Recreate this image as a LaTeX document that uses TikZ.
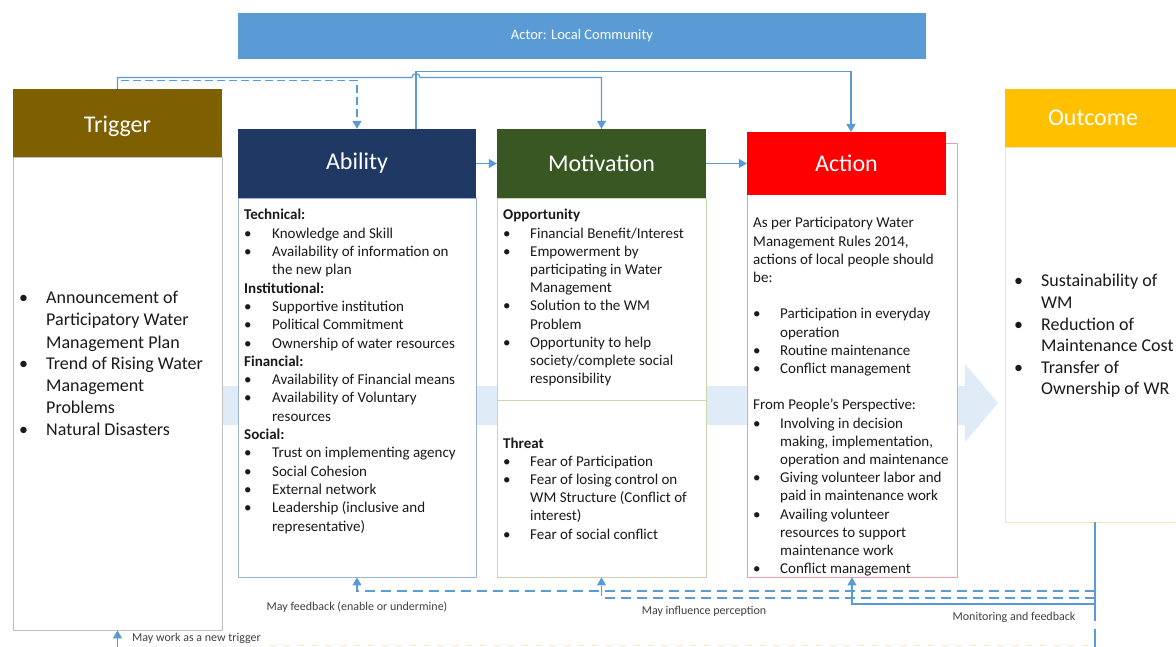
\documentclass[tikz,border=0pt]{standalone}
\usepackage{fontspec}
\setmainfont{Carlito}
\usetikzlibrary{arrows.meta}
\definecolor{cblue}{HTML}{5B9BD5}
\definecolor{ctrig}{HTML}{7F6000}
\definecolor{cabil}{HTML}{1F3864}
\definecolor{cmoti}{HTML}{385723}
\definecolor{cact}{HTML}{FF0000}
\definecolor{cout}{HTML}{FFC000}
\definecolor{cband}{HTML}{DFEBF7}
\definecolor{btrig}{HTML}{BFBFBF}
\definecolor{babil}{HTML}{9DB3D6}
\definecolor{bmoti}{HTML}{C9D5AE}
\definecolor{bact}{HTML}{F19CA8}
\definecolor{bout}{HTML}{FBE3B8}
\definecolor{ctext}{HTML}{1A1A1A}
\definecolor{clab}{HTML}{404040}
\definecolor{cfaint}{HTML}{FCE8C4}
\newcommand\bitem[1][27pt]{\makebox[#1][l]{\textbullet}}
\newcommand\bcont[1][27pt]{\hspace*{#1}}
\tikzset{
  hdr/.style={inner sep=0pt, text=white, font=\fontsize{24}{28}\selectfont},
  body/.style={fill=white, inner sep=0pt, line width=0.8pt},
  txt/.style={inner sep=0pt, anchor=base west, text=ctext},
  lab/.style={inner sep=0pt, text=clab, font=\fontsize{12}{14}\selectfont},
  conn/.style={draw=cblue, line width=1.2pt},
  tip/.style={-{Triangle[length=8pt,width=9pt]}},
  dconn/.style={conn, dash pattern=on 10pt off 6pt},
  tdconn/.style={conn, dash pattern=on 8pt off 4pt}
}
\begin{document}
\begin{tikzpicture}[x=1pt,y=-1pt]
\useasboundingbox (0,0) rectangle (1176,647);
\fill[white] (0,0) rectangle (1176,647);
% big background arrow
\fill[cband] (200,386) -- (965,386) -- (965,364) -- (998,403) -- (965,442) -- (965,425) -- (200,425) -- cycle;
% actor bar
\node[fill=cblue, inner sep=0pt, minimum width=688pt, minimum height=46pt, text=white, font=\fontsize{14.5}{17}\selectfont] (actor) at (582,36) {Actor: Local Community};
% bodies
\node[body, draw=btrig, minimum width=209pt, minimum height=473pt] (trB) at (117.5,393.5) {};
\node[body, draw=babil, minimum width=238pt, minimum height=379pt] (abB) at (357,387.5) {};
\node[body, draw=bmoti, minimum width=209pt, minimum height=379pt] (moB) at (601.5,387.5) {};
\draw[bmoti, line width=0.8pt] (moB.west |- 0,400) -- (moB.east |- 0,400);
\node[body, draw=bact, minimum width=210pt, minimum height=434pt] (acB) at (852,360) {};
\node[body, draw=bout, minimum width=176pt, minimum height=375pt] (ouB) at (1093,334.5) {};
% headers
\node[hdr, fill=ctrig, minimum width=209pt, minimum height=68pt, text depth=0pt] (trH) at (117.5,123) {\raisebox{-2pt}{Trigger}};
\node[hdr, fill=cabil, minimum width=238pt, minimum height=69pt] (abH) at (357,163.5) {\raisebox{-2pt}{Ability}};
\node[hdr, fill=cmoti, minimum width=209pt, minimum height=69pt] (moH) at (601.5,163.5) {Motivation};
\node[hdr, fill=cact, minimum width=199pt, minimum height=63pt] (acH) at (846.5,163.5) {Action};
\node[hdr, fill=cout, minimum width=176pt, minimum height=58pt] (ouH) at (1093,118) {Outcome};
% texts
\node[txt] (trT) at (19,304) {\parbox[t]{200pt}{\fontsize{18}{22}\selectfont\raggedright
\bitem[27pt]Announcement of\\ \bcont[27pt]Participatory Water\\ \bcont[27pt]Management Plan\\
\bitem[27pt]Trend of Rising Water\\ \bcont[27pt]Management\\ \bcont[27pt]Problems\\
\bitem[27pt]Natural Disasters}};
\node[txt] (abT) at (244,220) {\parbox[t]{235pt}{\fontsize{15}{18.3}\selectfont\raggedright
\textbf{Technical:}\\
\bitem[28pt]Knowledge and Skill\\
\bitem[28pt]Availability of information on\\ \bcont[28pt]the new plan\\
\textbf{Institutional:}\\
\bitem[28pt]Supportive institution\\
\bitem[28pt]Political Commitment\\
\bitem[28pt]Ownership of water resources\\
\textbf{Financial:}\\
\bitem[28pt]Availability of Financial means\\
\bitem[28pt]Availability of Voluntary\\ \bcont[28pt]resources\\
\textbf{Social:}\\
\bitem[28pt]Trust on implementing agency\\
\bitem[28pt]Social Cohesion\\
\bitem[28pt]External network\\
\bitem[28pt]Leadership (inclusive and\\ \bcont[28pt]representative)}};
\node[txt] (moT) at (503,220) {\parbox[t]{205pt}{\fontsize{15}{18.2}\selectfont\raggedright
\textbf{Opportunity}\\
\bitem Financial Benefit/Interest\\
\bitem Empowerment by\\ \bcont participating in Water\\ \bcont Management\\
\bitem Solution to the WM\\ \bcont Problem\\
\bitem Opportunity to help\\ \bcont society/complete social\\ \bcont responsibility}};
\node[txt] (thT) at (503,448) {\parbox[t]{205pt}{\fontsize{15}{18.2}\selectfont\raggedright
\textbf{Threat}\\
\bitem Fear of Participation\\
\bitem Fear of losing control on\\ \bcont WM Structure (Conflict of\\ \bcont interest)\\
\bitem Fear of social conflict}};
\node[txt] (acT) at (753,228) {\parbox[t]{212pt}{\fontsize{15}{18.2}\selectfont\raggedright
As per Participatory Water\\ Management Rules 2014,\\ actions of local people should\\ be:\\ \mbox{}\\
\bitem Participation in everyday\\ \bcont operation\\
\bitem Routine maintenance\\
\bitem Conflict management\\ \mbox{}\\
From People’s Perspective:\\
\bitem Involving in decision\\ \bcont making, implementation,\\ \bcont operation and maintenance\\
\bitem Giving volunteer labor and\\ \bcont paid in maintenance work\\
\bitem Availing volunteer\\ \bcont resources to support\\ \bcont maintenance work\\
\bitem Conflict management}};
\node[txt] (ouT) at (1014,287) {\parbox[t]{170pt}{\fontsize{18}{21.6}\selectfont\raggedright
\bitem[27pt]Sustainability of\\ \bcont[27pt]WM\\
\bitem[27pt]Reduction of\\ \bcont[27pt]Maintenance Cost\\
\bitem[27pt]Transfer of\\ \bcont[27pt]Ownership of WR}};
% top connectors
\coordinate (abTop) at (416,129);
\coordinate (acTop) at (851,132);
\draw[conn, tip] (abTop) -- (416,71.5) -- (851,71.5) -- (acTop);
\draw[conn, tip] (trH.north) -- (117.5,77.5) -- (412,77.5) arc[start angle=180, end angle=360, radius=4] -- (601.5,77.5) -- (moH.north);
\draw[tdconn, tip] (trH.north) -- (117.5,80.5) -- (357,80.5) -- (abH.north);
\draw[conn, tip] (abH.east) -- (moH.west);
\draw[conn, tip] (moH.east) -- (acH.west);
% bottom connectors
\coordinate (ouBot) at (1095,522);
\coordinate (gapA) at (1095,621);
\coordinate (gapB) at (1095,629);
\coordinate (ouEnd) at (1095,647);
\draw[conn] (ouBot) -- (gapA);
\draw[conn] (gapB) -- (ouEnd);
\draw[dconn, tip] (1095,591) -- (357,591) -- (abB.south);
\draw[dconn, tip] (1095,598) -- (601.5,598) -- (moB.south);
\draw[conn, tip] (1095,604) -- (852,604) -- (acB.south);
\coordinate (trEnd) at (117.5,647);
\draw[conn, tip] (trEnd) -- (trB.south);
\draw[cfaint, line width=1pt, dash pattern=on 6pt off 8pt] (270,645) -- (1090,645);
% labels
\node[lab] (l1) at (357,607) {May feedback (enable or undermine)};
\node[lab] (l2) at (704,611) {May influence perception};
\node[lab] (l3) at (1014,617) {Monitoring and feedback};
\node[lab, anchor=west] (l4) at (132,638) {May work as a new trigger};
\end{tikzpicture}
\end{document}
